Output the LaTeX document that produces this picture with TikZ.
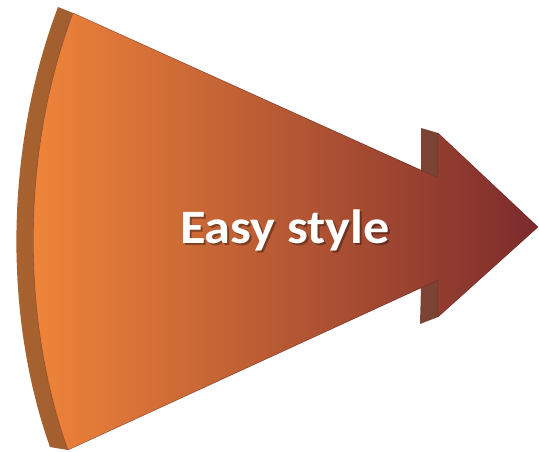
\documentclass[tikz,border=0pt]{standalone}
\usepackage{fontspec}
\setmainfont{Carlito}
\usepackage{xcolor}
\usepackage{tikz}

\definecolor{faceleft}{HTML}{F2873A}
\definecolor{facemid}{HTML}{D86E32}
\definecolor{faceright}{HTML}{7C2B2D}
\definecolor{sideleft}{HTML}{A9632F}
\definecolor{sideright}{HTML}{6E3B34}

\begin{document}
\begin{tikzpicture}[x=1pt,y=-1pt,
    side/.style={left color=sideleft,right color=sideright},
    face/.style={left color=faceleft,middle color=facemid,right color=faceright,
                 draw=faceright!70!black,draw opacity=0.35,line width=0.6pt},
    arrowtext/.style={font=\bfseries\fontsize{48}{52}\selectfont,text=white,anchor=base}]
    \fill[white] (0,0) rectangle (539,452);
    \useasboundingbox (0,0) rectangle (539,452);

    % front face corners
    \coordinate (ftl) at (73,13);
    \coordinate (fbl) at (68,450);
    \coordinate (fst) at (438,178);
    \coordinate (fsb) at (438,280);
    \coordinate (ftb) at (438,133);
    \coordinate (fbb) at (438,317);
    \coordinate (tip) at (538,227);
    % back face corners
    \coordinate (btl) at (58,7);
    \coordinate (bbl) at (50,447);
    \coordinate (btb) at (421,128);
    \coordinate (bst) at (421,170);
    \coordinate (bsb) at (421,288);
    \coordinate (bbb) at (420,324);

    % side of the arrow
    \shade[side] (ftl) -- (btl) .. controls (5,147) and (3,315) .. (bbl) -- (fbl)
        -- (bsb) -- (bbb) -- (fbb) -- (tip) -- (ftb) -- (btb) -- (bst) -- cycle;
    % front of the arrow
    \shade[face] (ftl) .. controls (22,150) and (20,315) .. (fbl) -- (fsb) -- (fbb)
        -- (tip) -- (ftb) -- (fst) -- cycle;

    \node[arrowtext,text=black,opacity=0.35] (shadow) at (287,245.5)
        {\scalebox{1.09}[1]{Easy style}};
    \node[arrowtext] (easy) at (285,243) {\scalebox{1.09}[1]{Easy style}};
\end{tikzpicture}
\end{document}
